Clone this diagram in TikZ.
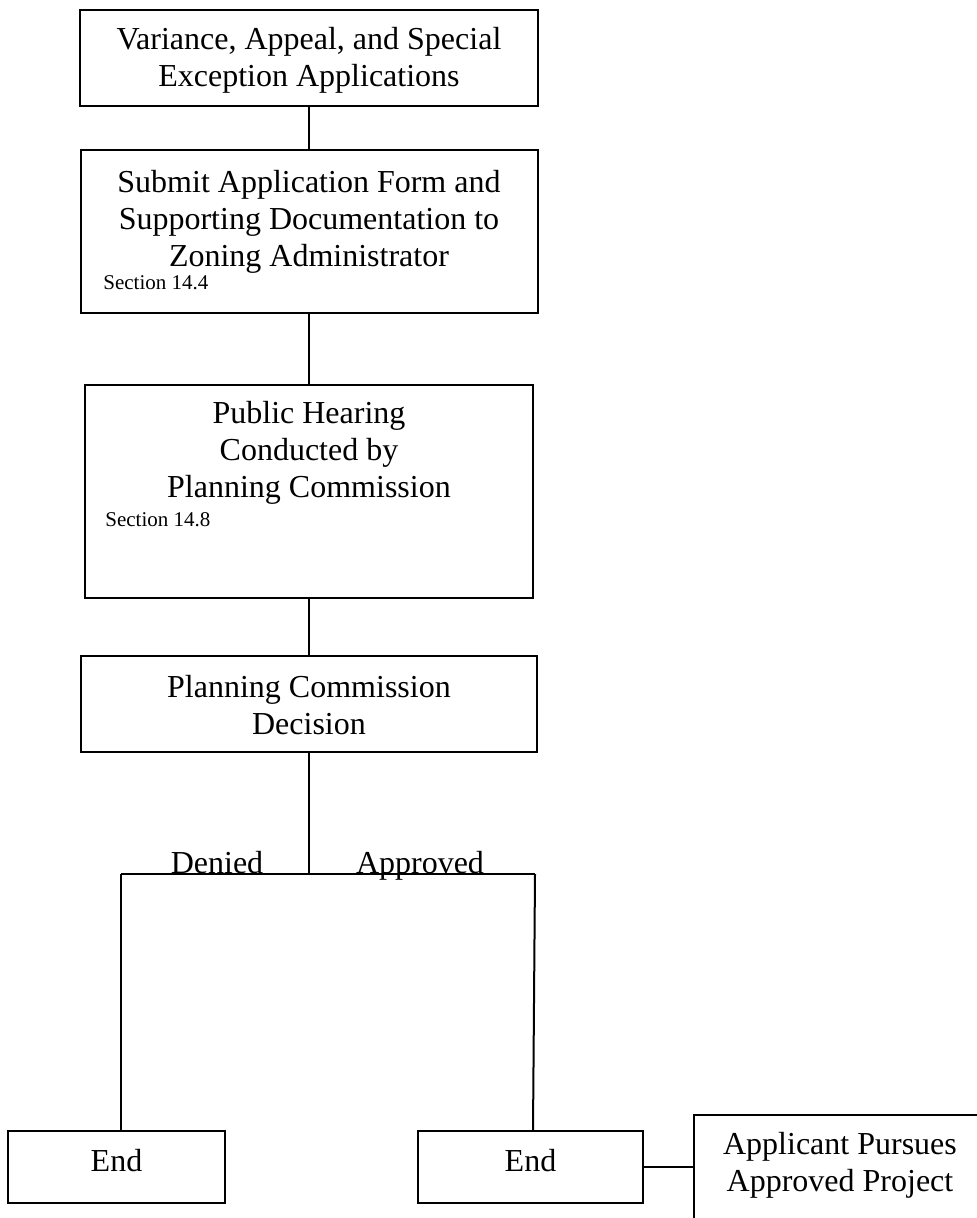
\documentclass[tikz,border=0pt]{standalone}
\usepackage{fontspec}
\setmainfont{Liberation Serif}
\usetikzlibrary{positioning,calc}
\tikzstyle{box}=[rectangle, fill=white, inner sep=0pt, line width=1pt, draw=black, anchor = center]
\tikzstyle{annot} = [align=center, inner sep=0pt, font=\fontsize{16}{18.5}\selectfont]
\tikzstyle{sect} = [anchor=west, inner sep=0pt, font=\fontsize{10.5}{12}\selectfont]
\tikzstyle{link} = [line width=1pt]

\begin{document}
\begin{tikzpicture}[x=0.5pt, y=-0.5pt]
	\clip (0,0) rectangle (977,1218);
	\useasboundingbox (0,0) rectangle (977,1218);

	\node[box, minimum width=229pt, minimum height=48pt](app) at (309,58){};
	\node[box, minimum width=228.5pt, minimum height=81.5pt](submit) at (309,231.5){};
	\node[box, minimum width=224pt, minimum height=106pt](hearing) at (309,491.5){};
	\node[box, minimum width=228pt, minimum height=48pt](decision) at (309,704){};
	\node[box, minimum width=108.5pt, minimum height=36pt](end1) at (116.5,1167){};
	\node[box, minimum width=112.5pt, minimum height=36pt](end2) at (530.5,1167){};
	\node[box, minimum width=148pt, minimum height=65pt](pursue) at (842,1180){};

	\node[annot] at (309,60){Variance, Appeal, and Special\\Exception Applications};
	\node[annot] at (309,222){Submit Application Form and\\Supporting Documentation to\\Zoning Administrator};
	\node[sect] at (103,283){Section 14.4};
	\node[annot] at (309,453){Public Hearing\\Conducted by\\Planning Commission};
	\node[sect] at (105,520){Section 14.8};
	\node[annot] at (309,705){Planning Commission\\Decision};
	\node[annot] at (116.5,1161){End};
	\node[annot] at (530.5,1161){End};
	\node[annot] at (840,1165){Applicant Pursues\\Approved Project};

	\coordinate (split) at (309,874);
	\coordinate (dleft) at (121,874);
	\coordinate (aright) at (535,874);
	\node[annot, anchor=base] at (217,873){Denied};
	\node[annot, anchor=base] at (420,873){Approved};

	\draw[link] (app) -- (submit);
	\draw[link] (submit) -- (hearing);
	\draw[link] (hearing) -- (decision);
	\draw[link] (decision) -- (split);
	\draw[link] (dleft) -- (aright);
	\draw[link] (dleft) -- (dleft |- end1.north);
	\draw[link] (aright) -- ($(end2.north)+(2.5,0)$);
	\draw[link] (end2.east) -- (pursue.west |- end2.east);
\end{tikzpicture}
\end{document}
